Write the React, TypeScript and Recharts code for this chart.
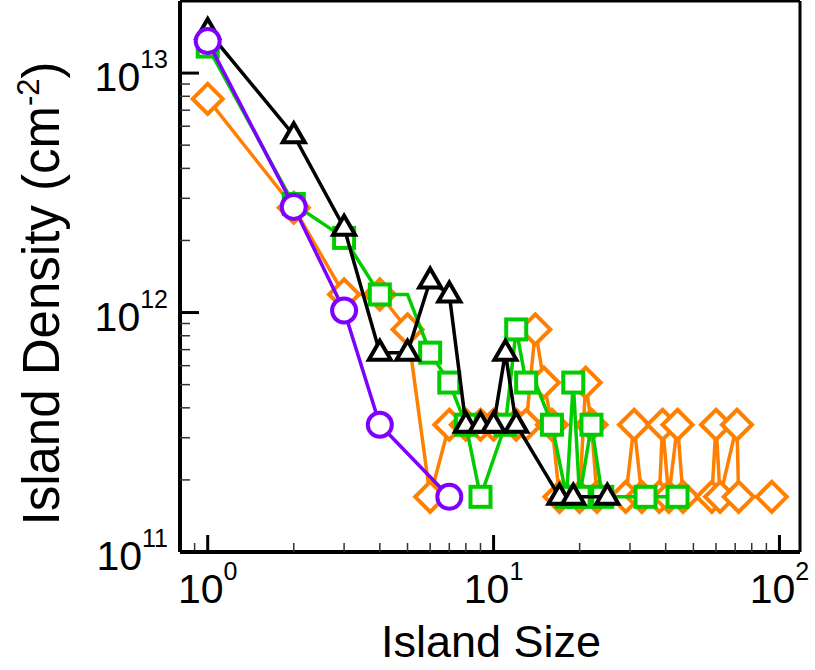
import { ScatterChart, Scatter, XAxis, YAxis, ReferenceLine } from 'recharts'

// island size (number of atoms) vs density (cm^-2)
const orangeSize = [1, 2, 3, 4, 5, 6, 7, 8, 9, 10, 12, 13, 14, 15, 16, 17, 20, 21, 22, 23, 29, 31, 33, 38, 39, 41, 44, 46, 58, 60, 62, 71, 72, 94]
const orangeDensity = [
  7.8e12, 2.74e12, 1.19e12, 1.19e12, 8.5e11, 1.7e11, 3.4e11, 3.4e11, 3.4e11, 3.4e11, 3.4e11, 3.4e11,
  8.5e11, 5.1e11, 3.4e11, 1.7e11, 1.7e11, 5.1e11, 3.4e11, 1.7e11, 1.7e11, 3.4e11, 1.7e11, 1.7e11,
  3.4e11, 1.7e11, 3.4e11, 1.7e11, 1.7e11, 3.4e11, 1.7e11, 3.4e11, 1.7e11, 1.7e11,
]

const greenSize = [1, 2, 3, 4, 5, 6, 7, 8, 9, 11, 12, 13, 14, 16, 18, 19, 20, 22, 24, 34, 44]
const greenDensity = [
  1.29e13, 2.84e12, 2.05e12, 1.19e12, 1.19e12, 6.8e11, 5.1e11, 3.4e11, 1.7e11, 3.4e11, 8.5e11,
  5.1e11, 5.1e11, 3.4e11, 1.7e11, 5.1e11, 1.7e11, 3.4e11, 1.7e11, 1.7e11, 1.7e11,
]
// points on the green curve that show no marker in the original
const greenUnmarked = [5, 14]

const blackSize = [1, 2, 3, 4, 5, 6, 7, 8, 9, 10, 11, 12, 17, 19, 25]
const blackDensity = [
  1.5e13, 5.5e12, 2.26e12, 6.8e11, 6.8e11, 1.36e12, 1.19e12, 3.4e11, 3.4e11, 3.4e11, 6.8e11, 3.4e11,
  1.7e11, 1.7e11, 1.7e11,
]

const purpleSize = [1, 2, 3, 4, 7]
const purpleDensity = [1.36e13, 2.76e12, 1.02e12, 3.4e11, 1.7e11]

const xTicks = [0.9, 1, 2, 3, 4, 5, 6, 7, 8, 9, 10, 20, 30, 40, 50, 60, 70, 80, 90, 100]
const yTicks = [
  1e11, 2e11, 3e11, 4e11, 5e11, 6e11, 7e11, 8e11, 9e11,
  1e12, 2e12, 3e12, 4e12, 5e12, 6e12, 7e12, 8e12, 9e12, 1e13,
]
const xDomain = [0.8, 118]
const yDomain = [1e11, 2e13]

const FONT = '"Liberation Sans", Arial, Helvetica, sans-serif'
const ORANGE = '#ff8000'
const GREEN = '#00cc00'
const PURPLE = '#7f00ff'
const LW = 3.5
const MW = 4

const toPoints = (sizes: number[], dens: number[]) => sizes.map((s, i) => ({ size: s, density: dens[i] }))

const isDecade = (v: number) => {
  const l = Math.log10(v)
  return Math.abs(l - Math.round(l)) < 1e-6
}

const makeShape = (kind: string, color: string, skip: number[] = []) => (props: any) => {
  const { cx, cy, payload } = props
  if (cx == null || cy == null) return <g />
  if (payload && skip.includes(payload.size)) return <g />
  const common = { fill: '#fff', stroke: color, strokeWidth: MW }
  if (kind === 'diamond') {
    const r = 15
    return <path d={`M${cx},${cy - r}L${cx + r},${cy}L${cx},${cy + r}L${cx - r},${cy}Z`} {...common} />
  }
  if (kind === 'square') {
    return <rect x={cx - 10} y={cy - 10} width={20} height={20} {...common} />
  }
  if (kind === 'triangle') {
    return <path d={`M${cx},${cy - 12}L${cx + 11},${cy + 7}L${cx - 11},${cy + 7}Z`} {...common} />
  }
  return <circle cx={cx} cy={cy} r={12} {...common} />
}

const XTick = (props: any) => {
  const { x, y, payload } = props
  const v = payload.value
  const major = isDecade(v)
  return (
    <g>
      <line x1={x} x2={x} y1={y} y2={y - (major ? 17 : 9)} stroke={major ? '#000' : '#333'} strokeWidth={major ? 3 : 1.5} />
      {major && (
        <text x={x} y={y + 51} textAnchor="middle" fontFamily={FONT} fontSize={41} fill="#000">
          10<tspan dy={-23} fontSize={25}>{Math.round(Math.log10(v))}</tspan>
        </text>
      )}
    </g>
  )
}

const YTick = (props: any) => {
  const { x, y, payload } = props
  const v = payload.value
  const major = isDecade(v)
  return (
    <g>
      <line x1={x} x2={x + (major ? 19 : 10)} y1={y} y2={y} stroke={major ? '#000' : '#333'} strokeWidth={major ? 3 : 1.5} />
      {major && (
        <text x={x - 12} y={y + 18} textAnchor="end" fontFamily={FONT} fontSize={41} fill="#000">
          10<tspan dy={-23} fontSize={25}>{Math.round(Math.log10(v))}</tspan>
        </text>
      )}
    </g>
  )
}

const XTitle = (props: any) => {
  const vb = props.viewBox || { x: 180, y: 552, width: 620, height: 118 }
  return (
    <text x={vb.x + vb.width / 2 + 1} y={vb.y + 105} textAnchor="middle" fontFamily={FONT} fontSize={45} fill="#000">
      Island Size
    </text>
  )
}

const YTitle = (props: any) => {
  const vb = props.viewBox || { x: 0, y: 1, width: 180, height: 551 }
  const cx = vb.x + 59
  const cy = vb.y + vb.height / 2 + 17
  return (
    <text x={cx} y={cy} transform={`rotate(-90 ${cx} ${cy})`} textAnchor="middle" fontFamily={FONT} fontSize={51} fill="#000">
      Island Density (cm<tspan dy={-20} fontSize={31}>-2</tspan><tspan dy={20}>)</tspan>
    </text>
  )
}

export default function App() {
  return (
    <div style={{ position: 'absolute', left: 0, top: 0, background: '#fff' }}>
      <ScatterChart width={815} height={670} margin={{ top: 1, right: 15, bottom: 0, left: 0 }}>
        <XAxis
          dataKey="size"
          type="number"
          scale="log"
          domain={xDomain}
          allowDataOverflow
          ticks={xTicks}
          interval={0}
          height={118}
          tickSize={0}
          tickMargin={0}
          tickLine={false}
          tick={<XTick />}
          axisLine={{ stroke: '#000', strokeWidth: 4 }}
          label={<XTitle />}
        />
        <YAxis
          dataKey="density"
          type="number"
          scale="log"
          domain={yDomain}
          allowDataOverflow
          ticks={yTicks}
          interval={0}
          width={180}
          tickSize={0}
          tickMargin={0}
          tickLine={false}
          tick={<YTick />}
          axisLine={{ stroke: '#000', strokeWidth: 4 }}
          label={<YTitle />}
        />
        <ReferenceLine x={xDomain[1]} stroke="#000" strokeWidth={3} />
        <ReferenceLine y={yDomain[1]} stroke="#000" strokeWidth={3} />
        <Scatter
          data={toPoints(orangeSize, orangeDensity)}
          line={{ stroke: ORANGE, strokeWidth: LW }}
          lineType="joint"
          fill={ORANGE}
          shape={makeShape('diamond', ORANGE)}
          isAnimationActive={false}
        />
        <Scatter
          data={toPoints(greenSize, greenDensity)}
          line={{ stroke: GREEN, strokeWidth: LW }}
          lineType="joint"
          fill={GREEN}
          shape={makeShape('square', GREEN, greenUnmarked)}
          isAnimationActive={false}
        />
        <Scatter
          data={toPoints(blackSize, blackDensity)}
          line={{ stroke: '#000', strokeWidth: LW }}
          lineType="joint"
          fill="#000"
          shape={makeShape('triangle', '#000')}
          isAnimationActive={false}
        />
        <Scatter
          data={toPoints(purpleSize, purpleDensity)}
          line={{ stroke: PURPLE, strokeWidth: LW }}
          lineType="joint"
          fill={PURPLE}
          shape={makeShape('circle', PURPLE)}
          isAnimationActive={false}
        />
      </ScatterChart>
    </div>
  )
}
